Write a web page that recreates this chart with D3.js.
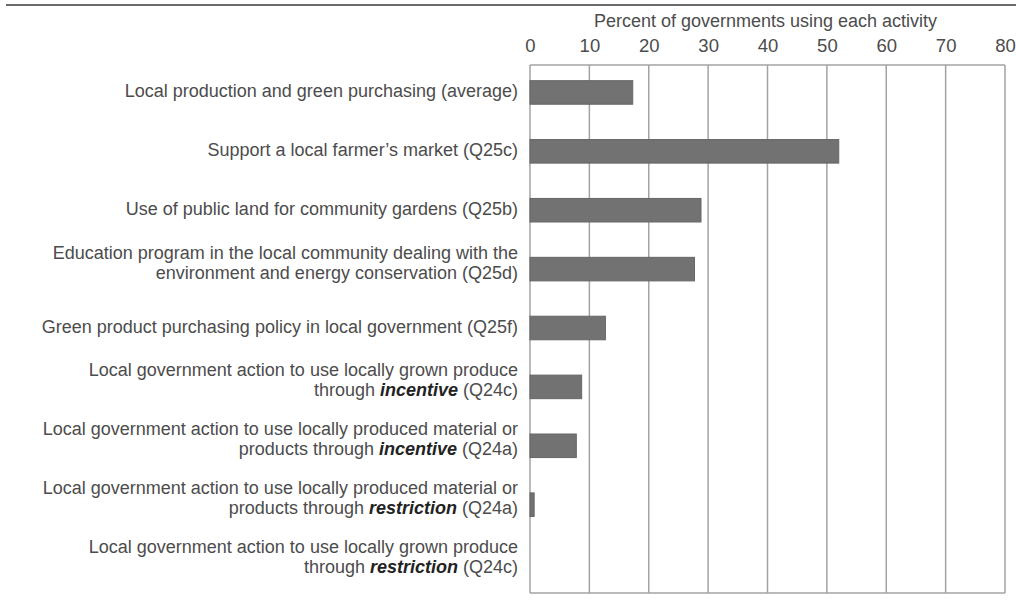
<!DOCTYPE html>
<html>
<head>
<meta charset="utf-8">
<script src="https://cdn.jsdelivr.net/npm/d3@7"></script>
<style>
  body { margin: 0; background: #fff; }
  svg { display: block; font-family: "Liberation Sans", Arial, sans-serif; }
</style>
</head>
<body>
<div id="chart"></div>
<script>
// label lines, *word* = bold italic
var categories = [
    ['Local production and green purchasing (average)'],
    ['Support a local farmer\u2019s market (Q25c)'],
    ['Use of public land for community gardens (Q25b)'],
    ['Education program in the local community dealing with the', 'environment and energy conservation (Q25d)'],
    ['Green product purchasing policy in local government (Q25f)'],
    ['Local government action to use locally grown produce', 'through *incentive* (Q24c)'],
    ['Local government action to use locally produced material or', 'products through *incentive* (Q24a)'],
    ['Local government action to use locally produced material or', 'products through *restriction* (Q24a)'],
    ['Local government action to use locally grown produce', 'through *restriction* (Q24c)']
];
var values = [17.3, 52.0, 28.8, 27.7, 12.7, 8.7, 7.8, 0.7, 0];
var ticks = [0, 10, 20, 30, 40, 50, 60, 70, 80];
var axisTitle = 'Percent of governments using each activity';

var width = 1016, height = 601;
var textColor = '#4c4c4c';
var svg = d3.select('#chart').append('svg')
    .attr('width', width)
    .attr('height', height);

var x = d3.scaleLinear().domain([0, 80]).range([530, 1005]);
var y = d3.scaleBand()
    .domain(d3.range(categories.length))
    .range([63, 593])
    .paddingInner(0.6)
    .paddingOuter(0.3);

// top rule
svg.append('line')
    .attr('x1', 6).attr('x2', width)
    .attr('y1', 5).attr('y2', 5)
    .style('stroke', '#6a6a6a')
    .style('stroke-width', 2);

// grid
svg.append('g')
    .selectAll('line')
    .data(ticks)
    .enter()
    .append('line')
    .attr('x1', function(d) { return x(d); })
    .attr('x2', function(d) { return x(d); })
    .attr('y1', 65)
    .attr('y2', 593)
    .style('stroke', '#a3a3a3')
    .style('stroke-width', 1.5);

[65, 593].forEach(function(yy) {
    svg.append('line')
        .attr('x1', x(0)).attr('x2', x(80))
        .attr('y1', yy).attr('y2', yy)
        .style('stroke', '#a3a3a3')
        .style('stroke-width', 1.5);
});

// tick labels
var axis = d3.axisTop(x).tickValues(ticks).tickSize(0).tickPadding(0);
var axisG = svg.append('g')
    .attr('transform', 'translate(0,51.5)')
    .call(axis);
axisG.select('.domain').remove();
axisG.selectAll('text')
    .style('font-family', '"Liberation Sans", Arial, sans-serif')
    .style('font-size', '18.5px')
    .style('fill', textColor);

svg.append('text')
    .attr('x', (x(0) + x(80)) / 2 - 2)
    .attr('y', 27)
    .attr('text-anchor', 'middle')
    .style('font-size', '18px')
    .style('fill', textColor)
    .text(axisTitle);

// bars
svg.append('g')
    .selectAll('rect')
    .data(values)
    .enter()
    .append('rect')
    .attr('x', x(0))
    .attr('y', function(d, i) { return y(i); })
    .attr('width', function(d) { return x(d) - x(0); })
    .attr('height', y.bandwidth())
    .style('fill', '#727272')
    .style('stroke', '#666')
    .style('stroke-width', function(d) { return d > 0 ? 1 : 0; });

// category labels
var lineH = 20;
var labels = svg.append('g')
    .selectAll('text')
    .data(categories)
    .enter()
    .append('text')
    .attr('text-anchor', 'end')
    .style('font-size', '18px')
    .style('fill', textColor)
    .attr('transform', function(d, i) {
        var cy = y(i) + y.bandwidth() / 2;
        var n = d.length;
        return 'translate(518,' + (cy - (n - 1) * lineH / 2 + 5 - (n - 1) * 5.5) + ')';
    });

labels.each(function(lines) {
    var t = d3.select(this);
    lines.forEach(function(line, li) {
        var parts = line.split('*');
        parts.forEach(function(p, pi) {
            var ts = t.append('tspan').text(p);
            if (pi === 0) ts.attr('x', 0).attr('y', li * lineH);
            if (pi % 2 === 1) {
                ts.style('font-weight', 'bold').style('font-style', 'italic').style('fill', '#222');
            }
        });
    });
});
</script>
</body>
</html>
